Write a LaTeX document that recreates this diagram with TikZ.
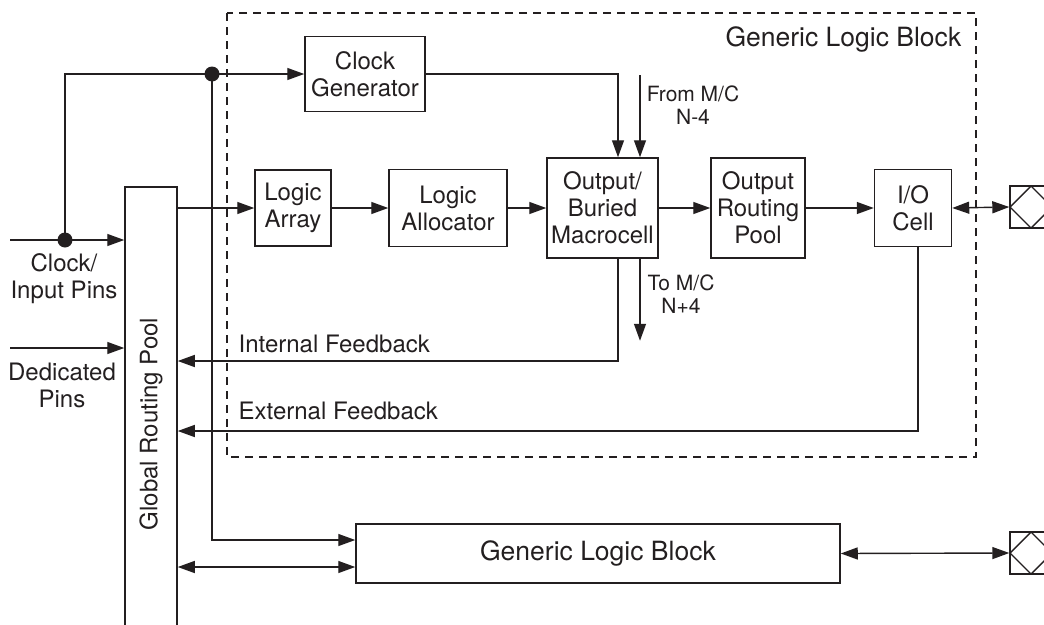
\documentclass[tikz,border=0pt]{standalone}
\usepackage{fontspec}
\setmainfont{TeX Gyre Heros}
\usetikzlibrary{arrows.meta,calc}
\definecolor{ink}{HTML}{231F20}
\begin{document}
\begin{tikzpicture}[x=1pt,y=-1pt,
  line width=1.4pt, color=ink,
  arr/.style={-{Triangle[length=17pt,width=12pt]}},
  darr/.style={{Triangle[length=17pt,width=12pt]}-{Triangle[length=17pt,width=12pt]}},
  blk/.style={draw, line width=1.5pt, align=center, inner sep=0pt, font=\fontsize{24}{27}\selectfont},
  lbl/.style={align=center, inner sep=0pt, font=\fontsize{24}{27}\selectfont},
  sml/.style={align=center, inner sep=0pt, font=\fontsize{21}{23}\selectfont},
  big/.style={inner sep=0pt, font=\fontsize{26.5}{30}\selectfont},
  dotn/.style={circle, fill, inner sep=0pt, minimum size=15pt},
  pad/.style={draw, line width=1.4pt, minimum width=42pt, minimum height=42pt, inner sep=0pt,
    path picture={\draw[line width=1.4pt] (path picture bounding box.west) -- (path picture bounding box.north)
      -- (path picture bounding box.east) -- (path picture bounding box.south) -- cycle;}}
]
\useasboundingbox (0,0) rectangle (1044,624);

% dashed generic logic block outline
\draw[line width=1.2pt, dash pattern=on 8pt off 6pt] (227,13) rectangle (976,457);
\node[big, anchor=base east] (glbl) at (962,46) {Generic Logic Block};

% blocks
\node[draw, line width=1.5pt, minimum width=52pt, minimum height=460pt, inner sep=0pt] (grp) at (151,417) {};
\node[lbl, rotate=90] (grplbl) at (151,424) {Global Routing Pool};
\node[blk, minimum width=120pt, minimum height=75pt] (clk) at (365,74) {Clock\\Generator};
\node[blk, minimum width=76pt, minimum height=76pt] (la) at (293,208) {Logic\\Array};
\node[blk, minimum width=118pt, minimum height=77pt] (lal) at (448,208) {Logic\\Allocator};
\node[blk, minimum width=111pt, minimum height=100pt] (mc) at (602.5,208) {Output/\\Buried\\Macrocell};
\node[blk, minimum width=94pt, minimum height=100pt] (orp) at (758,208) {Output\\Routing\\Pool};
\node[blk, minimum width=77pt, minimum height=77pt] (io) at (913,208) {I/O\\Cell};
\node[blk, font=\fontsize{26.5}{30}\selectfont, minimum width=484pt, minimum height=59pt] (glb2) at (598,553.5) {Generic Logic Block};
\node[pad] (pad1) at (1031,207) {};
\node[pad] (pad2) at (1031,553) {};

% junction dots
\node[dotn] (d1) at (65,240) {};
\node[dotn] (d2) at (212,74) {};

% helper coordinates
\coordinate (cin) at (10,240);
\coordinate (ded) at (10,348);
\coordinate (y540) at (0,540);
\coordinate (y567) at (0,567);
\coordinate (intc) at (0,361);
\coordinate (extc) at (0,431);
\coordinate (froms) at (640,75);

% input connections
\draw[arr] (cin) -- (cin -| grp.west);
\draw[arr] (ded) -- (ded -| grp.west);
\draw (d1.center) |- (d2.center);
\draw[arr] (d2.center) -- (clk.west);
\draw[arr] (d2.center) |- (glb2.west |- y540);
\draw[darr] (grp.east |- y567) -- (glb2.west |- y567);
\draw[darr] (glb2.east) -- (pad2.west);

% main chain
\draw[arr] (grp.east |- la.west) -- (la.west);
\draw[arr] (la.east) -- (lal.west);
\draw[arr] (lal.east) -- (mc.west);
\draw[arr] (mc.east) -- (orp.west);
\draw[arr] (orp.east) -- (io.west);
\draw[darr] (io.east) -- (pad1.west);

% macrocell inputs / outputs
\draw[arr] (clk.east) -| ([xshift=15.5pt]mc.north);
\draw[arr] (froms) -- (froms |- mc.north);
\draw[arr] ([xshift=37.5pt]mc.south) -- ++(0,82);
\node[sml] (froml) at (693,105) {From M/C\\N-4};
\node[sml] (tol) at (681,294) {To M/C\\N+4};

% feedback
\draw[arr] ([xshift=15.5pt]mc.south) |- (grp.east |- intc);
\draw[arr] ([xshift=5pt]io.south) |- (grp.east |- extc);
\node[lbl, anchor=base west] (intl) at (238,352) {Internal Feedback};
\node[lbl, anchor=base west] (extl) at (238,419) {External Feedback};

% pin labels
\node[lbl] (cilbl) at (64,279) {Clock/\\Input Pins};
\node[lbl] (dplbl) at (62,385) {Dedicated\\Pins};
\end{tikzpicture}
\end{document}
